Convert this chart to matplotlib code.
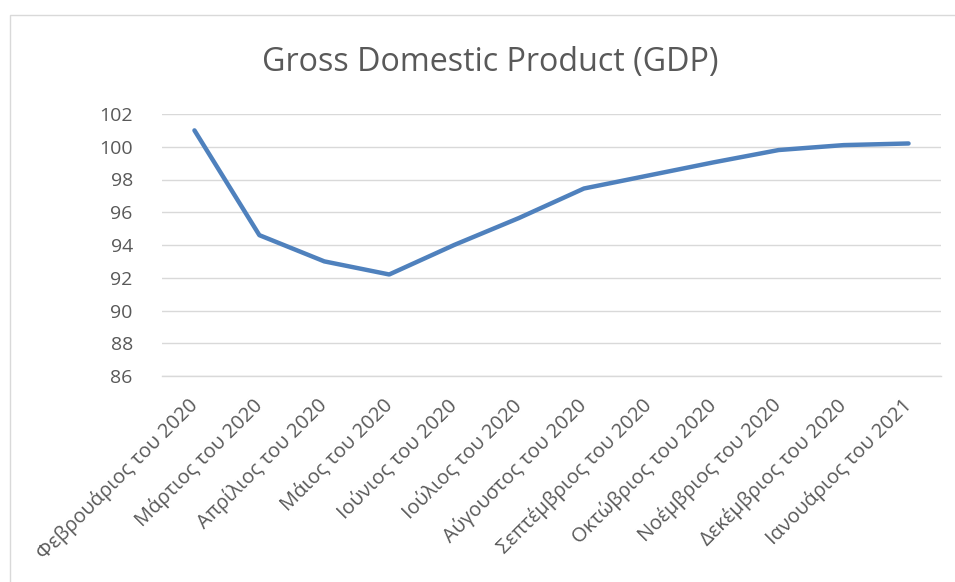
import matplotlib
matplotlib.use("Agg")
import matplotlib.pyplot as plt
from matplotlib.patches import Rectangle

months = ["Φεβρουάριος του 2020", "Μάρτιος του 2020", "Απρίλιος του 2020",
          "Μάιος του 2020", "Ιούνιος του 2020", "Ιούλιος του 2020",
          "Αύγουστος του 2020", "Σεπτέμβριος του 2020", "Οκτώβριος του 2020",
          "Νοέμβριος του 2020", "Δεκέμβριος του 2020", "Ιανουάριος του 2021"]
gdp = [101.0, 94.6, 93.0, 92.2, 94.0, 95.65, 97.45, 98.25, 99.05, 99.8, 100.1, 100.2]
yticks = [86, 88, 90, 92, 94, 96, 98, 100, 102]
title = "Gross Domestic Product (GDP)"

W, H = 955, 582
fig = plt.figure(figsize=(W / 100, H / 100), dpi=100)
fig.patch.set_facecolor("white")

# chart border (only left/top visible in crop)
fig.patches.append(Rectangle((10 / W, -0.1), 1.2, 1 - 15 / H + 0.1, transform=fig.transFigure,
                             fill=False, edgecolor="#d9d9d9", linewidth=1.0))

left, right = 162 / W, 941 / W
bottom, top = 1 - 376 / H, 1 - 114 / H
ax = fig.add_axes([left, bottom, right - left, top - bottom])
x = list(range(len(months)))
ax.plot(x, gdp, color="#4f81bd", linewidth=3.2, solid_capstyle="round", solid_joinstyle="round", zorder=3)
ax.set_xlim(-0.5, len(months) - 0.5)
ax.set_ylim(86, 102)
ax.set_yticks(yticks)
ax.set_yticklabels([str(v) for v in yticks], fontsize=14, color="#595959", family=["Open Sans", "DejaVu Sans"])
ax.yaxis.grid(True, color="#d9d9d9", linewidth=1.0)
ax.set_axisbelow(True)
for s in ["left", "right", "top"]:
    ax.spines[s].set_visible(False)
ax.spines["bottom"].set_color("#d9d9d9")
ax.spines["bottom"].set_linewidth(1.0)
ax.tick_params(axis="y", length=0, pad=21)
ax.tick_params(axis="x", length=0, pad=19)
ax.set_xticks(x)
ax.set_xticklabels(months, rotation=45, ha="right", va="center", rotation_mode="anchor",
                   fontsize=14.5, color="#595959", family=["Open Sans", "DejaVu Sans"])

fig.text(490 / W, 1 - 62 / H, title, ha="center", va="center", fontsize=23.2,
         color="#595959", family=["Open Sans", "DejaVu Sans"])

fig.savefig("out.png", dpi=100, facecolor="white")
